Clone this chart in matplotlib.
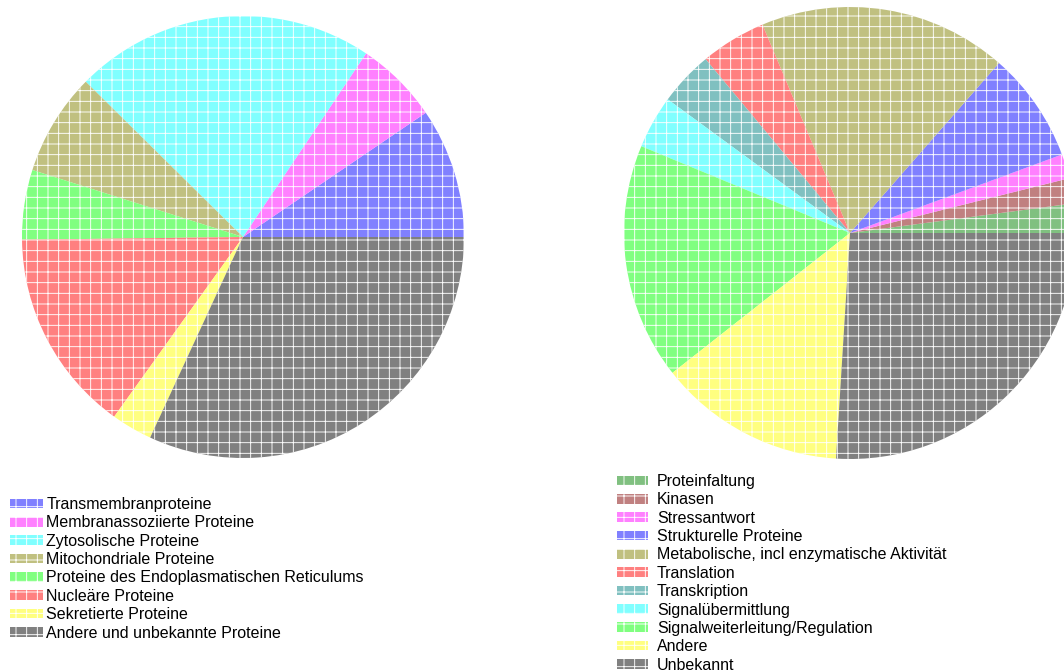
import matplotlib
matplotlib.use("Agg")
import matplotlib.pyplot as plt

plt.rcParams['font.family'] = ['Liberation Sans', 'DejaVu Sans']
plt.rcParams['hatch.color'] = 'white'
plt.rcParams['hatch.linewidth'] = 1.0

left_labels = ["Transmembranproteine", "Membranassoziierte Proteine", "Zytosolische Proteine",
               "Mitochondriale Proteine", "Proteine des Endoplasmatischen Reticulums",
               "Nucleäre Proteine", "Sekretierte Proteine", "Andere und unbekannte Proteine"]
left_values = [9.5, 6.1, 22.0, 7.5, 5.1, 14.9, 3.0, 31.9]
left_colors = ["#8080ff", "#ff80ff", "#80ffff", "#c0c080", "#80ff80", "#ff8080", "#ffff80", "#808080"]

right_labels = ["Proteinfaltung", "Kinasen", "Stressantwort", "Strukturelle Proteine",
                "Metabolische, incl enzymatische Aktivität", "Translation", "Transkription",
                "Signalübermittlung", "Signalweiterleitung/Regulation", "Andere", "Unbekannt"]
right_values = [2.1, 1.8, 1.75, 7.9, 17.8, 4.7, 3.9, 3.8, 16.9, 13.4, 26.0]
right_colors = ["#80c080", "#c08080", "#ff80ff", "#8080ff", "#c0c080", "#ff8080", "#80c0c0",
                "#80ffff", "#80ff80", "#ffff80", "#808080"]

W, H = 1064, 672
DPI = 64
fig = plt.figure(figsize=(W / DPI, H / DPI), dpi=DPI)


def px_axes(cx, cy, r):
    return fig.add_axes([(cx - r) / W, 1 - (cy + r) / H, 2 * r / W, 2 * r / H])


wp = dict(edgecolor='white', linewidth=0, hatch='+')

ax1 = px_axes(243, 237, 221)
w1, _ = ax1.pie(left_values, colors=left_colors, startangle=0, counterclock=True,
                wedgeprops=wp, radius=1)
ax1.set_xlim(-1, 1); ax1.set_ylim(-1, 1)

ax2 = px_axes(850, 233, 226)
w2, _ = ax2.pie(right_values, colors=right_colors, startangle=0, counterclock=True,
                wedgeprops=wp, radius=1)
ax2.set_xlim(-1, 1); ax2.set_ylim(-1, 1)

fs = 18
fig.legend(w1, left_labels, loc='upper left', bbox_to_anchor=(10 / W, 1 - 497 / H),
           bbox_transform=fig.transFigure, frameon=False, fontsize=fs, borderpad=0,
           borderaxespad=0, labelspacing=0.21, handlelength=2.06, handleheight=0.55,
           handletextpad=0.2)
fig.legend(w2, right_labels, loc='upper left', bbox_to_anchor=(617 / W, 1 - 474 / H),
           bbox_transform=fig.transFigure, frameon=False, fontsize=fs, borderpad=0,
           borderaxespad=0, labelspacing=0.21, handlelength=1.94, handleheight=0.55,
           handletextpad=0.56)

fig.savefig("out.png", dpi=DPI)
